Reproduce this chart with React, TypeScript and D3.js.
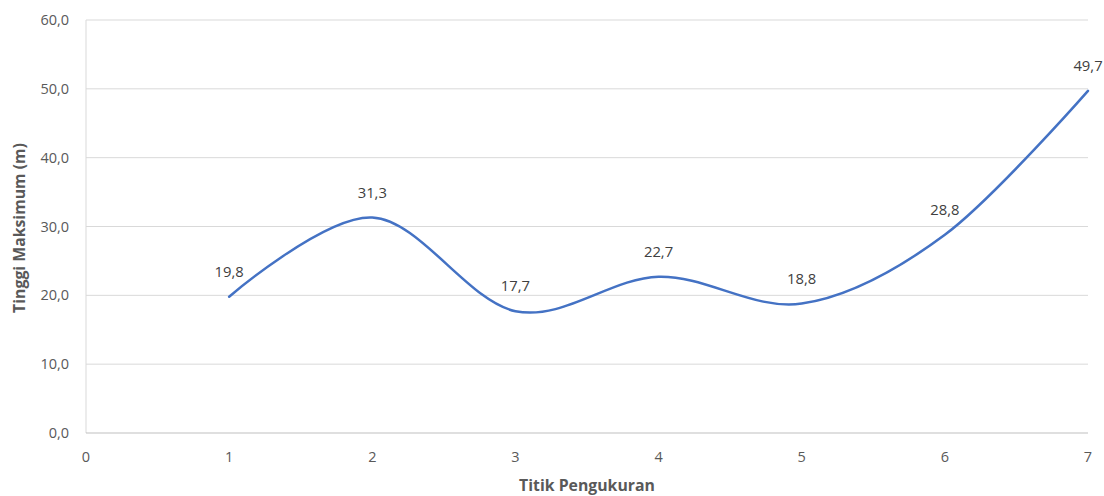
import React from "react";
import * as d3 from "d3";

const xValues = [1, 2, 3, 4, 5, 6, 7];
const yValues = [19.8, 31.3, 17.7, 22.7, 18.8, 28.8, 49.7];
const yTicks = [0, 10, 20, 30, 40, 50, 60];
const xTicks = [0, 1, 2, 3, 4, 5, 6, 7];

const W = 1104;
const H = 496;
const FONT = "'Open Sans', 'Noto Sans', sans-serif";

export default function App() {
  const x = d3.scaleLinear().domain([0, 7]).range([86, 1088]);
  const y = d3.scaleLinear().domain([0, 60]).range([433, 20]);
  const fmt = (v: number) => v.toFixed(1).replace(".", ",");
  const pts = xValues.map((v, i) => [x(v), y(yValues[i])] as [number, number]);
  const line = d3.line().curve(d3.curveCardinal.tension(0))(pts) || "";

  return (
    <div style={{ position: "fixed", left: 0, top: 0 }}>
      <svg width={W} height={H} style={{ display: "block", background: "#fff" }} fontFamily={FONT}>
        {yTicks.filter((t) => t > 0).map((t) => (
          <line key={t} x1={x(0)} x2={x(7)} y1={y(t)} y2={y(t)} stroke="#d9d9d9" strokeWidth={1} />
        ))}
        <line x1={x(0)} x2={x(0)} y1={y(60)} y2={y(0)} stroke="#d9d9d9" strokeWidth={1} />
        <line x1={x(0)} x2={x(7)} y1={y(0)} y2={y(0)} stroke="#bfbfbf" strokeWidth={1} />
        {yTicks.map((t) => (
          <text key={t} x={69} y={y(t)} dy="0.35em" textAnchor="end" fontSize={14.5} fill="#595959">
            {fmt(t)}
          </text>
        ))}
        {xTicks.map((t) => (
          <text key={t} x={x(t)} y={457} dy="0.35em" textAnchor="middle" fontSize={14.5} fill="#595959">
            {t}
          </text>
        ))}
        <path d={line} fill="none" stroke="#4472C4" strokeWidth={2.5} strokeLinecap="round" />
        {xValues.map((v, i) => (
          <text key={v} x={x(v)} y={y(yValues[i]) - 20} textAnchor="middle" fontSize={14.8} fill="#404040">
            {fmt(yValues[i])}
          </text>
        ))}
        <text x={587} y={485} dy="0.35em" textAnchor="middle" fontSize={15.8} fontWeight="bold" fill="#595959">
          Titik Pengukuran
        </text>
        <text transform={`translate(19,228) rotate(-90)`} dy="0.35em" textAnchor="middle" fontSize={15.8} fontWeight="bold" fill="#595959">
          Tinggi Maksimum (m)
        </text>
      </svg>
    </div>
  );
}
